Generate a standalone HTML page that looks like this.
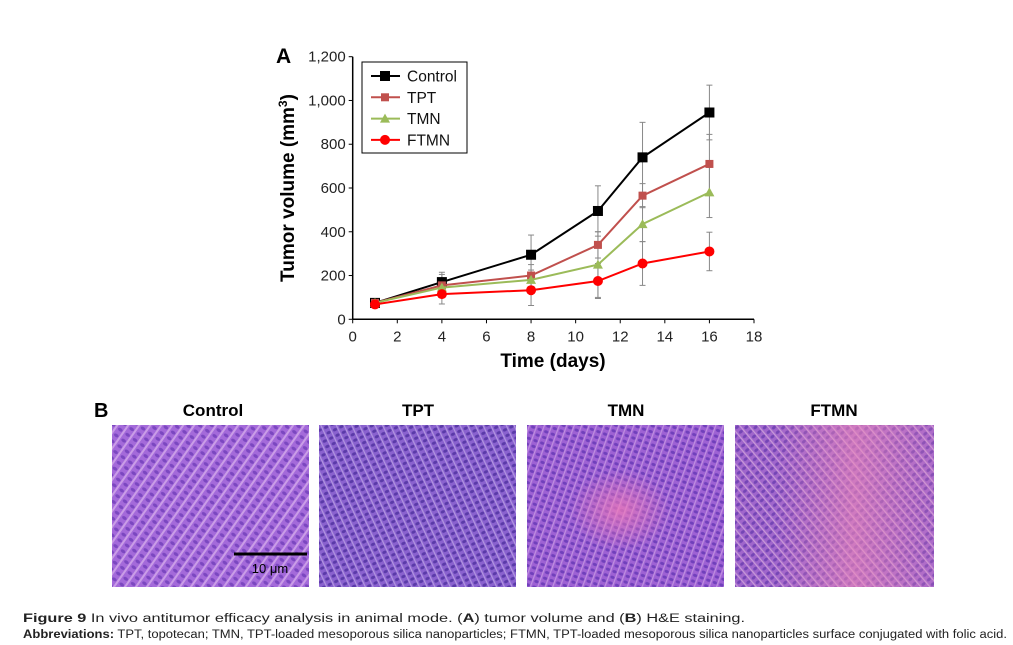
<!DOCTYPE html>
<html><head><meta charset="utf-8"><style>
html,body{margin:0;padding:0;background:#fff;}
svg{display:block;font-family:"Liberation Sans",sans-serif;}
</style></head><body>
<svg width="1013" height="645" viewBox="0 0 1013 645">
<defs>
<pattern id="tex1" width="9" height="7" patternUnits="userSpaceOnUse" patternTransform="rotate(35)">
<rect width="9" height="7" fill="#9a5fd6"/><ellipse cx="3" cy="3" rx="2.6" ry="1.6" fill="#6a35b8"/><rect x="6" y="0" width="2" height="7" fill="#c79be6"/></pattern>
<pattern id="tex2" width="7" height="6" patternUnits="userSpaceOnUse" patternTransform="rotate(-25)">
<rect width="7" height="6" fill="#8a62cf"/><ellipse cx="3" cy="3" rx="2.2" ry="1.5" fill="#5a3aa8"/><rect x="5.5" y="0" width="1.2" height="6" fill="#b296e0"/></pattern>
<pattern id="tex3" width="7" height="6" patternUnits="userSpaceOnUse" patternTransform="rotate(20)">
<rect width="7" height="6" fill="#9e62d4"/><ellipse cx="3" cy="3" rx="2.2" ry="1.5" fill="#7040bb"/><rect x="5.5" y="0" width="1.2" height="6" fill="#c090e0"/></pattern>
<pattern id="tex4" width="7" height="6" patternUnits="userSpaceOnUse" patternTransform="rotate(-40)">
<rect width="7" height="6" fill="#a066cc"/><ellipse cx="3" cy="3" rx="2.2" ry="1.5" fill="#7445b5"/><rect x="5.5" y="0" width="1.2" height="6" fill="#c89ad8"/></pattern>
<radialGradient id="pink3" cx="0.5" cy="0.5" r="0.5"><stop offset="0" stop-color="#f07ab8" stop-opacity="0.75"/><stop offset="1" stop-color="#f07ab8" stop-opacity="0"/></radialGradient>
<linearGradient id="pink4" x1="0" x2="1"><stop offset="0.2" stop-color="#f088b8" stop-opacity="0"/><stop offset="0.6" stop-color="#f088b8" stop-opacity="0.6"/><stop offset="1" stop-color="#f088b8" stop-opacity="0.15"/></linearGradient>
</defs>

<g id="chart"></g>

<text x="94" y="417" font-size="20" font-weight="bold">B</text>
<text x="213" y="416" font-size="17" font-weight="bold" text-anchor="middle">Control</text>
<text x="418" y="416" font-size="17" font-weight="bold" text-anchor="middle">TPT</text>
<text x="626" y="416" font-size="17" font-weight="bold" text-anchor="middle">TMN</text>
<text x="834" y="416" font-size="17" font-weight="bold" text-anchor="middle">FTMN</text>
<g><rect x="112" y="425" width="197" height="162" fill="url(#tex1)"/><rect x="112" y="425" width="197" height="162" fill="#e0b0f0" opacity="0.15"/></g>
<g><rect x="319" y="425" width="197" height="162" fill="url(#tex2)"/></g>
<g><rect x="527" y="425" width="197" height="162" fill="url(#tex3)"/><ellipse cx="620" cy="510" rx="50" ry="40" fill="url(#pink3)"/></g>
<g><rect x="735" y="425" width="199" height="162" fill="url(#tex4)"/><rect x="735" y="425" width="199" height="162" fill="url(#pink4)"/></g>
<line x1="234" y1="554" x2="307" y2="554" stroke="#000" stroke-width="3"/>
<text x="270" y="573" font-size="13" text-anchor="middle">10 μm</text>

<text x="23" y="622" font-size="11.5" textLength="722" lengthAdjust="spacingAndGlyphs" fill="#222"><tspan font-weight="bold">Figure 9</tspan> In vivo antitumor efficacy analysis in animal mode. (<tspan font-weight="bold">A</tspan>) tumor volume and (<tspan font-weight="bold">B</tspan>) H&amp;E staining.</text>
<text x="23" y="638" font-size="11.5" textLength="984" lengthAdjust="spacingAndGlyphs" fill="#222"><tspan font-weight="bold">Abbreviations:</tspan> TPT, topotecan; TMN, TPT-loaded mesoporous silica nanoparticles; FTMN, TPT-loaded mesoporous silica nanoparticles surface conjugated with folic acid.</text>
</svg>
<script>
const days=[1,4,8,11,13,16];
const controlVals=[75,170,295,495,740,945];
const controlErr=[10,45,90,115,160,125];
const tptVals=[75,155,200,340,565,710];
const tptErr=[10,50,50,60,55,135];
const tmnVals=[75,145,180,250,435,580];
const tmnErr=[10,40,45,150,80,115];
const ftmnVals=[68,115,133,175,255,310];
const ftmnErr=[10,45,70,80,100,88];
const xTicks=[0,2,4,6,8,10,12,14,16,18];
const yTicks=[0,200,400,600,800,1000,1200];
const yTickLabels=["0","200","400","600","800","1,000","1,200"];
const NS="http://www.w3.org/2000/svg";
const g=document.getElementById('chart');
const X0=352.7,X1=754,Y0=319.3,Y1=56.7;
const sx=v=>X0+(X1-X0)*v/18;
const sy=v=>Y0-(Y0-Y1)*v/1200;
function mk(t,a,p){const e=document.createElementNS(NS,t);for(const k in a)e.setAttribute(k,a[k]);(p||g).appendChild(e);return e;}
let e;
e=mk('line',{x1:X0,y1:Y0,x2:X1,y2:Y0,stroke:'#000','stroke-width':1.5});


e=mk('line',{x1:X0,y1:Y0,x2:X0,y2:Y1,stroke:'#000','stroke-width':1.5});


xTicks.forEach(t=>{mk('line',{x1:sx(t),y1:Y0,x2:sx(t),y2:Y0+4,stroke:'#000'});
e=mk('text',{x:sx(t),y:Y0+22,'font-size':15,'text-anchor':'middle',fill:'#222'});e.textContent=t;

});
yTicks.forEach((t,i)=>{mk('line',{x1:X0-4,y1:sy(t),x2:X0,y2:sy(t),stroke:'#000'});
e=mk('text',{x:X0-7,y:sy(t)+5,'font-size':15,'text-anchor':'end',fill:'#222'});e.textContent=yTickLabels[i];

});
e=mk('text',{x:553,y:367,'font-size':19,'font-weight':'bold','text-anchor':'middle'});e.textContent='Time (days)';


e=mk('text',{x:294,y:188,'font-size':19,'font-weight':'bold','text-anchor':'middle',transform:'rotate(-90 294 188)'});
e.innerHTML='Tumor volume (mm<tspan font-size="12" dy="-7">3</tspan><tspan dy="7">)</tspan>';


e=mk('text',{x:276,y:63,'font-size':21,'font-weight':'bold'});e.textContent='A';


const series=[
 {name:'control',vals:controlVals,err:controlErr,color:'#000',m:'sq',s:10},
 {name:'tpt',vals:tptVals,err:tptErr,color:'#c0504d',m:'sq',s:8},
 {name:'tmn',vals:tmnVals,err:tmnErr,color:'#9bbb59',m:'tri',s:9},
 {name:'ftmn',vals:ftmnVals,err:ftmnErr,color:'#ff0000',m:'circ',s:10}];
function marker(s,x,y,p){if(s.m==='sq')return mk('rect',{x:x-s.s/2,y:y-s.s/2,width:s.s,height:s.s,fill:s.color},p);
if(s.m==='tri')return mk('polygon',{points:`${x},${y-5} ${x-5},${y+4} ${x+5},${y+4}`,fill:s.color},p);
return mk('circle',{cx:x,cy:y,r:5,fill:s.color},p);}
series.forEach(s=>{const sg=mk('g',{});


days.forEach((d,i)=>{const x=sx(d);const t=sy(s.vals[i]+s.err[i]),b=sy(s.vals[i]-s.err[i]);
mk('line',{x1:x,y1:t,x2:x,y2:b,stroke:'#888','stroke-width':1},sg);
mk('line',{x1:x-3,y1:t,x2:x+3,y2:t,stroke:'#888'},sg);mk('line',{x1:x-3,y1:b,x2:x+3,y2:b,stroke:'#888'},sg);});});
series.forEach(s=>{const sg=mk('g',{});


mk('polyline',{points:days.map((d,i)=>sx(d)+','+sy(s.vals[i])).join(' '),fill:'none',stroke:s.color,'stroke-width':2},sg);
days.forEach((d,i)=>{const m=marker(s,sx(d),sy(s.vals[i]),sg);

});});
const lg=mk('g',{});


mk('rect',{x:362,y:62,width:105,height:91,fill:'#fff',stroke:'#000','stroke-width':1},lg);
const labels=['Control','TPT','TMN','FTMN'];
series.forEach((s,i)=>{const y=76+i*21.3;const eg=mk('g',{},lg);


mk('line',{x1:371,y1:y,x2:400,y2:y,stroke:s.color,'stroke-width':2},eg);marker(s,385,y,eg);
const t=mk('text',{x:407,y:y+5.5,'font-size':15.5,fill:'#111'},eg);t.textContent=labels[i];});
</script>
</body></html>
